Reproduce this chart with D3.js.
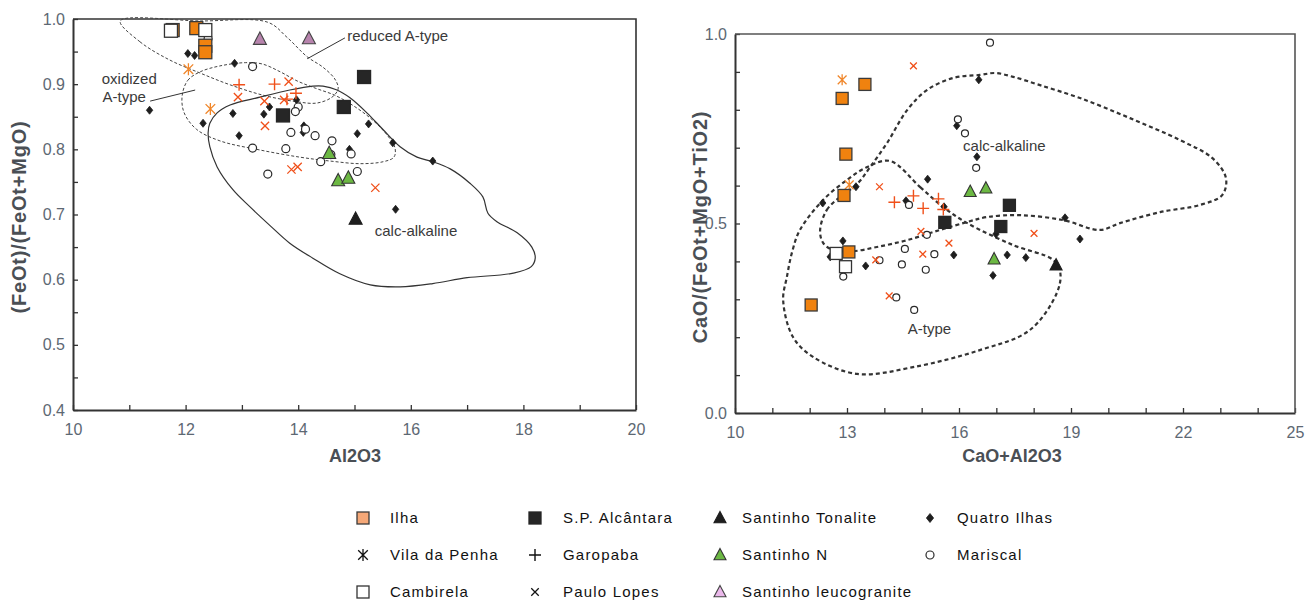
<!DOCTYPE html>
<meta charset="utf-8">
<style>
body { margin: 0; background: #fff; }
svg text { font-family: "Liberation Sans", Arial, sans-serif; }
.tick text { fill: #5d6873; font-size: 16px; }
.tick line { stroke: #333; stroke-width: 1.3; }
.domain { stroke: #333; stroke-width: 2; }
.title { font-weight: bold; fill: #4a4f55; font-size: 18px; }
.ytitle { font-size: 20px; letter-spacing: 0.8px; }
.note { fill: #3a3a3a; font-size: 15px; }
.legend text { font-size: 15px; letter-spacing: 1.2px; fill: #111; }
</style>

<svg id="chart" width="1307" height="606"></svg>

<script src="https://d3js.org/d3.v7.min.js"></script>
<script>

// ---------- left diagram : Al2O3 vs FeOt/(FeOt+MgO)
var leftIlha = [[11.77,0.983],[12.19,0.986],[12.35,0.959],[12.35,0.949]];
var leftCambirela = [[11.74,0.982],[12.35,0.983]];
var leftLeuco = [[13.32,0.969],[14.19,0.970]];
var leftQuatro = [[11.36,0.860],[12.04,0.947],[12.16,0.944],[12.87,0.932],[12.31,0.840],[12.84,0.855],
  [13.39,0.854],[13.49,0.865],[13.97,0.876],[12.95,0.821],[14.10,0.836],[14.09,0.826],[15.05,0.824],
  [15.25,0.839],[14.91,0.800],[15.68,0.810],[16.39,0.782],[15.73,0.708]];
var leftMariscal = [[12.40,0.970],[13.19,0.927],[14.00,0.865],[13.95,0.858],[13.87,0.826],[14.13,0.831],
  [14.30,0.821],[14.60,0.813],[13.19,0.802],[13.78,0.801],[14.58,0.792],[14.94,0.793],[14.40,0.781],
  [15.05,0.766],[13.46,0.762]];
var leftGaropaba = [[12.95,0.899],[13.58,0.900],[13.96,0.886],[13.80,0.877]];
var leftPaulo = [[12.93,0.880],[13.83,0.904],[13.40,0.874],[13.75,0.876],[13.41,0.836],[13.88,0.769],
  [13.99,0.773],[15.37,0.741]];
var leftVila = [[12.05,0.923],[12.44,0.862]];
var leftAlcantara = [[15.17,0.911],[14.81,0.865],[13.73,0.852]];
var leftTonalite = [[15.02,0.693]];
var leftSantinhoN = [[14.55,0.794],[14.71,0.752],[14.89,0.756]];

// field outlines (data units)
var leftReduced = [[10.84,0.997],[11.19,0.965],[11.72,0.937],[12.26,0.917],[12.79,0.899],[13.38,0.883],
  [13.98,0.873],[14.33,0.871],[14.60,0.880],[14.71,0.893],[14.65,0.908],[14.44,0.926],[14.16,0.942],
  [13.80,0.972],[13.46,0.995],[12.26,0.997]];
var leftOxidized = [[11.94,0.883],[12.04,0.906],[12.26,0.919],[12.61,0.928],[13.06,0.933],[13.36,0.931],
  [13.68,0.919],[13.98,0.905],[14.30,0.894],[14.65,0.883],[14.96,0.868],[15.28,0.848],[15.56,0.824],
  [15.72,0.802],[15.70,0.788],[15.51,0.781],[15.10,0.778],[14.57,0.782],[14.03,0.788],[13.32,0.799],
  [12.61,0.813],[12.19,0.831],[11.97,0.857]];
var leftCalc = [[12.40,0.825],[12.43,0.840],[12.56,0.856],[12.79,0.868],[13.32,0.880],[13.85,0.891],
  [14.26,0.897],[14.44,0.897],[14.69,0.891],[14.92,0.879],[15.22,0.856],[15.51,0.830],[15.81,0.804],
  [16.11,0.788],[16.39,0.781],[16.70,0.770],[17.05,0.748],[17.28,0.727],[17.37,0.702],[17.53,0.689],
  [17.89,0.672],[18.15,0.650],[18.21,0.633],[18.14,0.620],[17.82,0.610],[17.00,0.603],[16.39,0.594],
  [15.81,0.589],[15.28,0.592],[14.74,0.609],[14.26,0.633],[13.85,0.656],[13.50,0.683],[13.14,0.712],
  [12.84,0.738],[12.56,0.773],[12.43,0.804]];

// ---------- right diagram : CaO+Al2O3 vs CaO/(FeOt+MgO+TiO2)
var rightIlha = [[13.48,0.867],[12.87,0.830],[12.97,0.683],[12.92,0.574],[13.05,0.425],[12.04,0.285]];
var rightCambirela = [[12.71,0.421],[12.96,0.386]];
var rightVila = [[12.87,0.879],[13.06,0.602]];
var rightPaulo = [[14.78,0.916],[13.87,0.597],[14.98,0.479],[18.01,0.474],[15.73,0.448],[15.03,0.419],
  [13.77,0.404],[14.13,0.309]];
var rightGaropaba = [[14.27,0.556],[14.78,0.573],[15.04,0.540],[15.45,0.565],[15.58,0.537]];
var rightMariscal = [[16.83,0.977],[15.97,0.775],[16.16,0.738],[16.46,0.647],[14.66,0.549],[15.14,0.470],
  [15.34,0.419],[14.55,0.433],[13.87,0.403],[14.47,0.392],[15.11,0.378],[12.90,0.360],[14.32,0.305],
  [14.80,0.272]];
var rightQuatro = [[16.53,0.879],[15.94,0.758],[16.48,0.676],[15.16,0.617],[13.24,0.597],[12.35,0.554],
  [14.58,0.560],[15.60,0.544],[16.99,0.472],[18.84,0.515],[19.24,0.459],[15.86,0.417],[12.89,0.454],
  [12.55,0.412],[13.50,0.388],[17.29,0.417],[17.79,0.410],[16.91,0.363]];
var rightAlcantara = [[17.35,0.548],[15.62,0.503],[17.12,0.492]];
var rightSantinhoN = [[16.30,0.584],[16.72,0.593],[16.94,0.406]];
var rightTonalite = [[18.60,0.390]];

var rightCalc = [[12.28,0.483],[12.46,0.536],[12.81,0.570],[13.27,0.604],[13.62,0.649],[14.07,0.712],
  [14.61,0.799],[15.14,0.852],[15.84,0.884],[16.56,0.892],[16.97,0.897],[17.45,0.887],[18.17,0.865],
  [19.24,0.831],[20.58,0.778],[21.92,0.720],[22.78,0.673],[23.15,0.620],[23.05,0.575],[22.46,0.549],
  [21.39,0.530],[20.31,0.501],[19.78,0.483],[18.79,0.509],[17.64,0.522],[16.75,0.517],[16.22,0.504],
  [15.49,0.483],[14.61,0.456],[13.80,0.438],[13.16,0.427],[12.63,0.430],[12.36,0.449]];
var rightAtype = [[14.15,0.665],[14.96,0.596],[15.57,0.544],[16.22,0.501],[17.45,0.443],[18.52,0.404],
  [18.71,0.372],[18.63,0.319],[17.90,0.219],[16.56,0.166],[14.77,0.121],[13.27,0.103],[12.09,0.148],
  [11.55,0.201],[11.29,0.298],[11.39,0.359],[11.53,0.425],[11.74,0.483],[12.36,0.562],[13.00,0.615],
  [13.54,0.649]];

// legend
var legendNames = ["Ilha","S.P. Alcântara","Santinho Tonalite","Quatro Ilhas",
  "Vila da Penha","Garopaba","Santinho N","Mariscal",
  "Cambirela","Paulo Lopes","Santinho leucogranite"];

var svg = d3.select("#chart");

// scales
var xL = d3.scaleLinear().domain([10,20]).range([73,636]);
var yL = d3.scaleLinear().domain([0.4,1.0]).range([410,19]);
var xR = d3.scaleLinear().domain([10,25]).range([735,1295]);
var yR = d3.scaleLinear().domain([0,1]).range([413,34]);

// marker styles
var styles = {
  "Ilha":       {type:"square", fill:"#f0820f", stroke:"#3a3a3a", legendFill:"#f5a878"},
  "S.P. Alcântara": {type:"square", fill:"#262626", stroke:"#262626"},
  "Santinho Tonalite": {type:"triangle", fill:"#1e1e1e", stroke:"#1e1e1e"},
  "Quatro Ilhas": {type:"diamond", fill:"#1e1e1e", stroke:"#1e1e1e"},
  "Vila da Penha": {type:"asterisk", fill:"none", stroke:"#f0862a", legendStroke:"#111"},
  "Garopaba": {type:"plus", fill:"none", stroke:"#f0501a", legendStroke:"#111"},
  "Santinho N": {type:"triangle", fill:"#6cb843", stroke:"#333"},
  "Mariscal": {type:"circle", fill:"#fff", stroke:"#2a2a2a"},
  "Cambirela": {type:"square", fill:"#fff", stroke:"#333"},
  "Paulo Lopes": {type:"cross", fill:"none", stroke:"#f0501a", legendStroke:"#111"},
  "Santinho leucogranite": {type:"triangle", fill:"#b784ad", stroke:"#444", legendFill:"#eab8ea"}
};

function marker(g, st, cx, cy, s, fill, stroke) {
  var h = s / 2;
  if (st.type == "square") {
    g.append("rect").attr("x", cx-h).attr("y", cy-h).attr("width", s).attr("height", s)
      .attr("fill", fill).attr("stroke", stroke).attr("stroke-width", 1.3);
  } else if (st.type == "triangle") {
    g.append("path").attr("d", "M"+cx+","+(cy-h*1.1)+"L"+(cx+h)+","+(cy+h*0.8)+"L"+(cx-h)+","+(cy+h*0.8)+"Z")
      .attr("fill", fill).attr("stroke", stroke).attr("stroke-width", 1.1);
  } else if (st.type == "diamond") {
    g.append("path").attr("d", "M"+cx+","+(cy-h)+"L"+(cx+h*0.8)+","+cy+"L"+cx+","+(cy+h)+"L"+(cx-h*0.8)+","+cy+"Z")
      .attr("fill", fill).attr("stroke", stroke).attr("stroke-width", 0.8);
  } else if (st.type == "circle") {
    g.append("circle").attr("cx", cx).attr("cy", cy).attr("r", h)
      .attr("fill", fill).attr("stroke", stroke).attr("stroke-width", 1.2);
  } else if (st.type == "plus") {
    g.append("path").attr("d", "M"+(cx-h)+","+cy+"H"+(cx+h)+"M"+cx+","+(cy-h)+"V"+(cy+h))
      .attr("stroke", stroke).attr("stroke-width", 1.4).attr("fill", "none");
  } else if (st.type == "cross") {
    var k = h*0.75;
    g.append("path").attr("d", "M"+(cx-k)+","+(cy-k)+"L"+(cx+k)+","+(cy+k)+"M"+(cx+k)+","+(cy-k)+"L"+(cx-k)+","+(cy+k))
      .attr("stroke", stroke).attr("stroke-width", 1.3).attr("fill", "none");
  } else if (st.type == "asterisk") {
    var k = h*0.8;
    g.append("path").attr("d", "M"+(cx-k)+","+(cy-k)+"L"+(cx+k)+","+(cy+k)+"M"+(cx+k)+","+(cy-k)+"L"+(cx-k)+","+(cy+k)+
        "M"+cx+","+(cy-h)+"V"+(cy+h))
      .attr("stroke", stroke).attr("stroke-width", 1.3).attr("fill", "none");
  }
}

function drawSeries(g, data, name, xs, ys, sizes) {
  var st = styles[name];
  data.forEach(function(d) {
    marker(g, st, xs(d[0]), ys(d[1]), sizes[st.type], st.fill, st.stroke);
  });
}

// ---------- axes
function drawAxes(xs, ys, yTicks, yLabelEvery, xTicks, xLabelEvery, frameColor) {
  var g = svg.append("g");
  g.append("g")
    .attr("transform", "translate(" + xs.range()[0] + ",0)")
    .call(d3.axisLeft(ys).tickValues(yTicks).tickSize(-5).tickSizeOuter(0).tickPadding(8)
      .tickFormat(function(d, i) { return i % yLabelEvery == 0 ? d.toFixed(1) : ""; }));
  g.append("g")
    .attr("transform", "translate(0," + ys.range()[0] + ")")
    .call(d3.axisBottom(xs).tickValues(xTicks).tickSize(-5).tickSizeOuter(0).tickPadding(14)
      .tickFormat(function(d, i) { return i % xLabelEvery == 0 ? d : ""; }));
  // top and right frame
  var x0 = xs.domain()[0], x1 = xs.domain()[1], y0 = ys.domain()[0], y1 = ys.domain()[1];
  g.append("path")
    .attr("d", "M" + xs(x0) + "," + ys(y1) + "H" + xs(x1) + "V" + ys(y0))
    .attr("fill", "none").attr("stroke", frameColor).attr("stroke-width", 1.6);
}

drawAxes(xL, yL, d3.range(0, 13).map(function(i){ return 0.4 + i*0.05; }), 2,
  d3.range(10, 21), 2, "#333");
drawAxes(xR, yR, d3.range(0, 11).map(function(i){ return i*0.1; }), 5,
  d3.range(10, 26), 3, "#555");

// axis titles
svg.append("text").attr("class", "title ytitle").attr("transform", "translate(26,217) rotate(-90)")
  .attr("text-anchor", "middle").text("(FeOt)/(FeOt+MgO)");
svg.append("text").attr("class", "title").attr("x", 355).attr("y", 462)
  .attr("text-anchor", "middle").text("Al2O3");
svg.append("text").attr("class", "title ytitle").attr("transform", "translate(707,227) rotate(-90)")
  .attr("text-anchor", "middle").text("CaO/(FeOt+MgO+TiO2)");
svg.append("text").attr("class", "title").attr("x", 1012).attr("y", 462)
  .attr("text-anchor", "middle").text("CaO+Al2O3");

// ---------- fields
var lineL = d3.line().x(function(d){ return xL(d[0]); }).y(function(d){ return yL(d[1]); })
  .curve(d3.curveCatmullRomClosed.alpha(0.5));
var lineR = d3.line().x(function(d){ return xR(d[0]); }).y(function(d){ return yR(d[1]); })
  .curve(d3.curveCatmullRomClosed.alpha(0.5));

svg.append("path").attr("d", lineL(leftReduced)).attr("fill", "none")
  .attr("stroke", "#444").attr("stroke-width", 1).attr("stroke-dasharray", "3,2");
svg.append("path").attr("d", lineL(leftOxidized)).attr("fill", "none")
  .attr("stroke", "#444").attr("stroke-width", 1).attr("stroke-dasharray", "3,2");
svg.append("path").attr("d", lineL(leftCalc)).attr("fill", "none")
  .attr("stroke", "#333").attr("stroke-width", 1.2);

svg.append("path").attr("d", lineR(rightCalc)).attr("fill", "none")
  .attr("stroke", "#333").attr("stroke-width", 2.2).attr("stroke-dasharray", "4,3");
svg.append("path").attr("d", lineR(rightAtype)).attr("fill", "none")
  .attr("stroke", "#333").attr("stroke-width", 2.2).attr("stroke-dasharray", "4,3");

// field labels and leader lines
svg.append("text").attr("class", "note").attr("x", xL(14.87)).attr("y", yL(0.966)).text("reduced A-type");
svg.append("line").attr("x1", xL(14.16)).attr("y1", yL(0.939)).attr("x2", xL(14.83)).attr("y2", yL(0.971))
  .attr("stroke", "#333").attr("stroke-width", 1);
svg.append("text").attr("class", "note").attr("x", xL(11.0)).attr("y", yL(0.900))
  .attr("text-anchor", "middle").text("oxidized");
svg.append("text").attr("class", "note").attr("x", xL(10.91)).attr("y", yL(0.873))
  .attr("text-anchor", "middle").text("A-type");
svg.append("line").attr("x1", xL(11.37)).attr("y1", yL(0.874)).attr("x2", xL(12.17)).attr("y2", yL(0.891))
  .attr("stroke", "#333").attr("stroke-width", 1);
svg.append("text").attr("class", "note").attr("x", xL(15.36)).attr("y", yL(0.667)).text("calc-alkaline");

svg.append("text").attr("class", "note").attr("x", xR(16.11)).attr("y", yR(0.691)).text("calc-alkaline");
svg.append("text").attr("class", "note").attr("x", xR(14.63)).attr("y", yR(0.208)).text("A-type");

// ---------- points
var gl = svg.append("g");
var sizeL = {square:13, triangle:13, diamond:8, circle:8, plus:12, cross:11, asterisk:12};
drawSeries(gl, leftQuatro, "Quatro Ilhas", xL, yL, sizeL);
drawSeries(gl, leftMariscal, "Mariscal", xL, yL, sizeL);
drawSeries(gl, leftPaulo, "Paulo Lopes", xL, yL, sizeL);
drawSeries(gl, leftGaropaba, "Garopaba", xL, yL, sizeL);
drawSeries(gl, leftVila, "Vila da Penha", xL, yL, sizeL);
drawSeries(gl, leftSantinhoN, "Santinho N", xL, yL, sizeL);
drawSeries(gl, leftTonalite, "Santinho Tonalite", xL, yL, sizeL);
drawSeries(gl, leftAlcantara, "S.P. Alcântara", xL, yL, sizeL);
drawSeries(gl, leftIlha, "Ilha", xL, yL, sizeL);
drawSeries(gl, leftCambirela, "Cambirela", xL, yL, sizeL);
drawSeries(gl, leftLeuco, "Santinho leucogranite", xL, yL, sizeL);

var gr = svg.append("g");
var sizeR = {square:12, triangle:12, diamond:8, circle:7, plus:12, cross:9, asterisk:11};
drawSeries(gr, rightQuatro, "Quatro Ilhas", xR, yR, sizeR);
drawSeries(gr, rightMariscal, "Mariscal", xR, yR, sizeR);
drawSeries(gr, rightPaulo, "Paulo Lopes", xR, yR, sizeR);
drawSeries(gr, rightGaropaba, "Garopaba", xR, yR, sizeR);
drawSeries(gr, rightVila, "Vila da Penha", xR, yR, sizeR);
drawSeries(gr, rightSantinhoN, "Santinho N", xR, yR, sizeR);
drawSeries(gr, rightTonalite, "Santinho Tonalite", xR, yR, sizeR);
drawSeries(gr, rightAlcantara, "S.P. Alcântara", xR, yR, sizeR);
drawSeries(gr, rightIlha, "Ilha", xR, yR, sizeR);
drawSeries(gr, rightCambirela, "Cambirela", xR, yR, sizeR);

// ---------- legend
var colMark = [363, 535, 720, 930], colText = [390, 563, 742, 957], rowY = [518, 555, 592];
var sizeLeg = {square:12, triangle:12, diamond:9, circle:8, plus:12, cross:10, asterisk:12};
var gLeg = svg.append("g").attr("class", "legend");
legendNames.forEach(function(name, i) {
  var st = styles[name], c = i % 4, r = Math.floor(i / 4);
  marker(gLeg, st, colMark[c], rowY[r], sizeLeg[st.type],
    st.legendFill || st.fill, st.legendStroke || st.stroke);
  gLeg.append("text").attr("x", colText[c]).attr("y", rowY[r]).attr("dy", "0.36em").text(name);
});

</script>
